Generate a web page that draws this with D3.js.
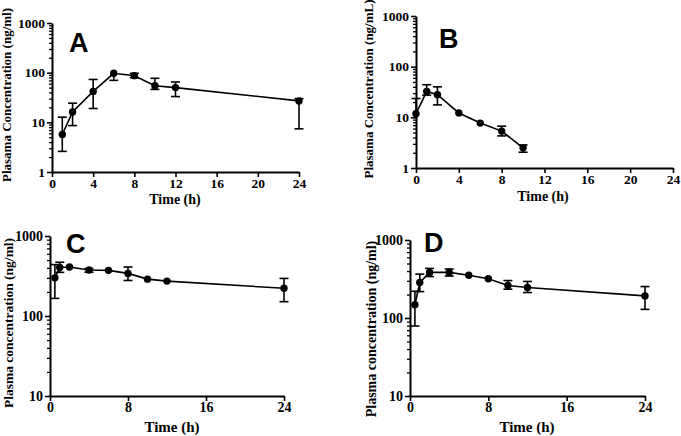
<!DOCTYPE html>
<html><head><meta charset="utf-8">
<script src="https://cdn.jsdelivr.net/npm/d3@7"></script>
<style>body{margin:0;background:#fff}</style>
</head><body>
<svg id="c" width="681" height="436"></svg>
<script>
// Panel A
const timesA = [1, 2, 4, 6, 8, 10, 12, 24];
const meanA  = [5.7, 16.2, 42, 97, 87, 54.5, 50, 27];
const upperA = [12.7, 24.3, 73, 100, 97, 77, 65, 30];
const lowerA = [2.6, 8.6, 19, 70, 79, 46, 33, 7.4];
// Panel B
const timesB = [0, 1, 2, 4, 6, 8, 10];
const meanB  = [11.8, 32.5, 28, 12.2, 7.7, 5.35, 2.5];
const upperB = [23.5, 44, 40, 12.2, 7.7, 6.7, 2.85];
const lowerB = [11.8, 27.4, 17.6, 12.2, 7.7, 4.3, 2.05];
// Panel C
const timesC = [0.5, 1, 2, 4, 6, 8, 10, 12, 24];
const meanC  = [300, 405, 410, 376, 372, 341, 289, 273, 222];
const upperC = [439, 470, 410, 392, 372, 410, 289, 273, 295];
const lowerC = [166, 351, 410, 352, 372, 278, 289, 273, 151];
// Panel D
const timesD = [0.5, 1, 2, 4, 6, 8, 10, 12, 24];
const meanD  = [148, 285, 384, 384, 354, 318, 261, 246, 192];
const upperD = [220, 365, 432, 425, 354, 318, 302, 294, 253];
const lowerD = [79, 218, 340, 345, 354, 318, 234, 212, 129];

const xTicksAB = [0, 4, 8, 12, 16, 20, 24];
const xTicksCD = [0, 8, 16, 24];
const yTicksAB = [1, 10, 100, 1000];
const yTicksCD = [10, 100, 1000];
const titlesY = ["Plasama Concentration (ng/ml)", "Plasama Concentration (ng/mL)",
                 "Plasma concentration (ng/ml)", "Plasma concentration (ng/ml)"];
const letters = ["A", "B", "C", "D"];
const xTitle = "Time (h)";

const svg = d3.select("#c");
const SERIF = "'Liberation Serif','Times New Roman',serif";
const SANS = "'Liberation Sans',Arial,sans-serif";

const panels = [
  {t: timesA, m: meanA, u: upperA, l: lowerA, xt: xTicksAB, yt: yTicksAB, yd: [1, 1000],
   x0: 52, x1: 299, y0: 172, y1: 23, ytx: 10.5, yty: 95, xtx: 175, xty: 204, tickFs: 13.5, xtFs: 14, ytFs: 13,
   lx: 69, ly: 52},
  {t: timesB, m: meanB, u: upperB, l: lowerB, xt: xTicksAB, yt: yTicksAB, yd: [1, 1000],
   x0: 416, x1: 673, y0: 168, y1: 16, ytx: 372.5, yty: 89, xtx: 543, xty: 201, tickFs: 13.5, xtFs: 14, ytFs: 13,
   lx: 439, ly: 48},
  {t: timesC, m: meanC, u: upperC, l: lowerC, xt: xTicksCD, yt: yTicksCD, yd: [10, 1000],
   x0: 50, x1: 284, y0: 396, y1: 236, ytx: 13, yty: 323, xtx: 172, xty: 432, tickFs: 14, xtFs: 15, ytFs: 13.5,
   lx: 66, ly: 253},
  {t: timesD, m: meanD, u: upperD, l: lowerD, xt: xTicksCD, yt: yTicksCD, yd: [10, 1000],
   x0: 410, x1: 645, y0: 396, y1: 240, ytx: 376, yty: 329, xtx: 527, xty: 432, tickFs: 14, xtFs: 15, ytFs: 14,
   lx: 424, ly: 252}
];

panels.forEach((p, i) => {
  const g = svg.append("g");
  const x = d3.scaleLinear().domain([0, 24]).range([p.x0, p.x1]);
  const y = d3.scaleLog().domain(p.yd).range([p.y0, p.y1]);

  // minor ticks
  const minor = [];
  for (let dec = p.yd[0]; dec < p.yd[1]; dec *= 10)
    for (let k = 2; k <= 9; k++) minor.push(dec * k);
  g.append("g").attr("transform", `translate(${p.x0},0)`)
    .call(d3.axisLeft(y).tickValues(minor).tickSize(3).tickFormat(""))
    .call(a => a.select(".domain").remove())
    .call(a => a.selectAll("line").attr("stroke", "#000").attr("stroke-width", 1.3));

  const ya = g.append("g").attr("transform", `translate(${p.x0},0)`)
    .call(d3.axisLeft(y).tickValues(p.yt).tickFormat(d3.format("d")).tickSize(5).tickSizeOuter(0).tickPadding(2));
  const xa = g.append("g").attr("transform", `translate(0,${p.y0})`)
    .call(d3.axisBottom(x).tickValues(p.xt).tickSize(5).tickSizeOuter(0).tickPadding(1));
  [ya, xa].forEach(a => {
    a.select(".domain").attr("stroke", "#000").attr("stroke-width", 2);
    a.selectAll(".tick line").attr("stroke", "#000").attr("stroke-width", 1.6);
    a.selectAll("text").attr("font-family", SERIF).attr("font-weight", "bold")
      .attr("font-size", p.tickFs).attr("fill", "#000");
  });

  // titles
  g.append("text").attr("x", p.xtx).attr("y", p.xty).attr("text-anchor", "middle")
    .attr("font-family", SERIF).attr("font-weight", "bold").attr("font-size", p.xtFs).text(xTitle);
  g.append("text").attr("transform", `translate(${p.ytx},${p.yty}) rotate(-90)`)
    .attr("text-anchor", "middle").attr("font-family", SERIF).attr("font-weight", "bold")
    .attr("font-size", p.ytFs).text(titlesY[i]);
  g.append("text").attr("x", p.lx).attr("y", p.ly).attr("font-family", SANS)
    .attr("font-weight", "bold").attr("font-size", 27).text(letters[i]);

  const data = p.t.map((t, j) => ({t, m: p.m[j], u: p.u[j], l: p.l[j]}));

  // error bars
  const eb = g.append("g").attr("stroke", "#000").attr("stroke-width", 1.6);
  data.filter(d => d.u > d.m * 1.03 || d.l < d.m / 1.03).forEach(d => {
    const cx = x(d.t);
    eb.append("line").attr("x1", cx).attr("x2", cx).attr("y1", y(d.u)).attr("y2", y(d.l));
    [d.u, d.l].forEach(v => {
      if (Math.abs(y(v) - y(d.m)) > 1)
        eb.append("line").attr("x1", cx - 4.5).attr("x2", cx + 4.5).attr("y1", y(v)).attr("y2", y(v));
    });
  });

  // line
  g.append("path").datum(data)
    .attr("d", d3.line().x(d => x(d.t)).y(d => y(d.m)))
    .attr("fill", "none").attr("stroke", "#000").attr("stroke-width", 1.6);
  // markers
  g.selectAll("circle.pt").data(data).enter().append("circle")
    .attr("cx", d => x(d.t)).attr("cy", d => y(d.m)).attr("r", 3.7).attr("fill", "#000");
});
</script>
</body></html>
